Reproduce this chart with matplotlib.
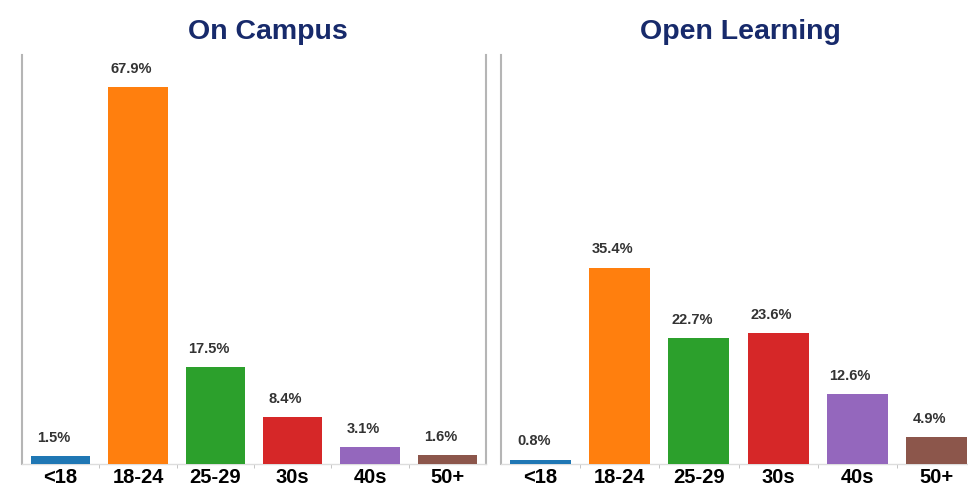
import numpy as np
import matplotlib.pyplot as plt

plt.rcParams['font.family'] = ['Liberation Sans', 'DejaVu Sans']

# Age distribution of students
ages = ['<18', '18-24', '25-29', '30s', '40s', '50+']
on_campus = [1.5, 67.9, 17.5, 8.4, 3.1, 1.6]
open_learning = [0.8, 35.4, 22.7, 23.6, 12.6, 4.9]
titles = ['On Campus', 'Open Learning']
colors = ['#1f77b4', '#ff7f0e', '#2ca02c', '#d62728', '#9467bd', '#8c564b']

W, H = 968, 488
fig = plt.figure(figsize=(W / 100, H / 100), dpi=100)

# axes boxes in pixels: left, right, top, bottom
boxes = [(22, 486, 55, 464), (501, 976, 55, 464)]
title_x = [268, 740]


def panel(box, vals, title, tx, right_spine):
    x0, x1, yt, yb = box
    ax = fig.add_axes([x0 / W, 1 - yb / H, (x1 - x0) / W, (yb - yt) / H])
    x = np.arange(len(ages))
    ax.bar(x, vals, width=0.77, color=colors, zorder=3)
    for xi, v in zip(x, vals):
        ax.annotate('{}%'.format(v), (xi, v), xytext=(-5, 8),
                    textcoords='offset points', ha='center', va='bottom',
                    fontsize=10.5, fontweight='bold', color='#333333')
    ax.set_xlim(-0.5, len(ages) - 0.5)
    ax.set_ylim(0, 73.7)
    ax.set_yticks([])
    ax.set_xticks(x)
    ax.set_xticklabels(ages, fontsize=14.5, fontweight='bold')
    ax.tick_params(axis='x', which='major', length=0, pad=3)
    ax.set_xticks(x[:-1] + 0.5, minor=True)
    ax.tick_params(axis='x', which='minor', length=3, color='#bbbbbb')
    ax.spines['top'].set_visible(False)
    ax.spines['right'].set_visible(right_spine)
    for s in ('left', 'right', 'bottom'):
        ax.spines[s].set_color('#b5b5b5')
        ax.spines[s].set_linewidth(1.5)
    ax.spines['bottom'].set_color('#dddddd')
    ax.spines['bottom'].set_linewidth(1)
    fig.text(tx / W, 1 - 32 / H, title, ha='center', va='center',
             fontsize=20.5, fontweight='bold', color='#172a6b')
    return ax


panel(boxes[0], on_campus, titles[0], title_x[0], True)
panel(boxes[1], open_learning, titles[1], title_x[1], False)

fig.savefig('out.png', dpi=100)
